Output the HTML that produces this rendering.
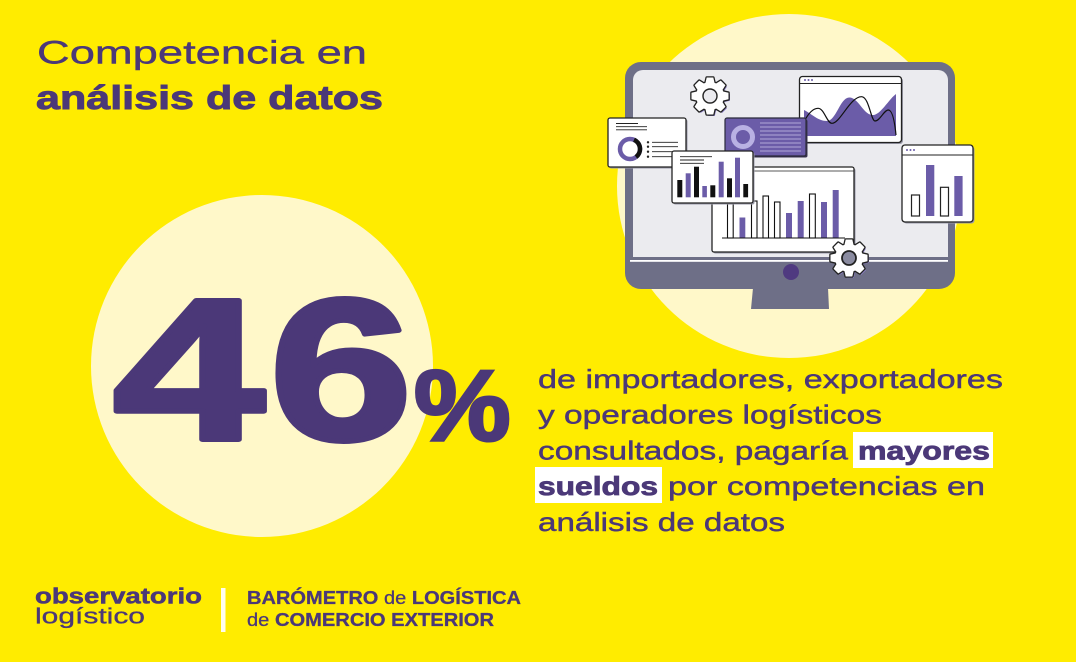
<!DOCTYPE html>
<html><head><meta charset="utf-8"><style>
html,body{margin:0;padding:0;background:#ffec00;}
svg{display:block;}
text{font-family:"Liberation Sans",sans-serif;}
</style></head><body>
<svg width="1076" height="662" viewBox="0 0 1076 662" xmlns="http://www.w3.org/2000/svg">
<rect width="1076" height="662" fill="#ffec00"/>
<!-- pale circles -->
<circle cx="262" cy="366" r="171" fill="#fff8c9"/>
<circle cx="789" cy="186" r="172" fill="#fff8c9"/>

<!-- Title -->
<text x="37" y="63.5" font-size="32" fill="#4b3878" stroke="#4b3878" stroke-width="0.4" textLength="330" lengthAdjust="spacingAndGlyphs">Competencia en</text>
<text x="36" y="109" font-size="33" font-weight="700" fill="#4b3878" stroke="#4b3878" stroke-width="0.9" textLength="347" lengthAdjust="spacingAndGlyphs">análisis de datos</text>

<!-- 46% -->
<g fill="#4b3878" stroke="#4b3878" stroke-width="5" stroke-linejoin="round" font-weight="700">
<text transform="translate(112.8,439.5) scale(1.355,1)" font-size="202">4</text>
<text transform="translate(269.2,439.5) scale(1.276,1)" font-size="202">6</text>
</g>
<text transform="translate(414,440) scale(1.086,1)" font-size="100" font-weight="700" fill="#4b3878" stroke="#4b3878" stroke-width="3">%</text>

<!-- Body text -->
<rect x="853" y="432" width="140" height="36" fill="#ffffff"/>
<rect x="535" y="467" width="127" height="36" fill="#ffffff"/>
<g font-size="26" fill="#4b3878" stroke="#4b3878" stroke-width="0.45">
<text x="538" y="388" textLength="465" lengthAdjust="spacingAndGlyphs">de importadores, exportadores</text>
<text x="538" y="423.5" textLength="344" lengthAdjust="spacingAndGlyphs">y operadores logísticos</text>
<text x="538" y="459.5" textLength="310" lengthAdjust="spacingAndGlyphs">consultados, pagaría</text>
<text x="858" y="459.5" textLength="132" lengthAdjust="spacingAndGlyphs" font-weight="700" stroke-width="0.8">mayores</text>
<text x="538" y="495" textLength="120" lengthAdjust="spacingAndGlyphs" font-weight="700" stroke-width="0.8">sueldos</text>
<text x="668" y="495" textLength="317" lengthAdjust="spacingAndGlyphs">por competencias en</text>
<text x="538" y="531" textLength="247" lengthAdjust="spacingAndGlyphs">análisis de datos</text>
</g>

<!-- Footer -->
<g fill="#4b3878">
<text x="35" y="603.3" font-size="22" font-weight="700" stroke="#4b3878" stroke-width="0.5" textLength="167" lengthAdjust="spacingAndGlyphs">observatorio</text>
<text x="35" y="623.3" font-size="22" stroke="#4b3878" stroke-width="0.3" textLength="110" lengthAdjust="spacingAndGlyphs">logístico</text>
<rect x="221" y="588" width="4.5" height="44" fill="#fffdf0"/>
<text x="247" y="604" font-size="18.5" stroke="#4b3878" stroke-width="0.3" textLength="274" lengthAdjust="spacingAndGlyphs"><tspan font-weight="700">BARÓMETRO</tspan> de <tspan font-weight="700">LOGÍSTICA</tspan></text>
<text x="247" y="626" font-size="18.5" stroke="#4b3878" stroke-width="0.3" textLength="247" lengthAdjust="spacingAndGlyphs">de <tspan font-weight="700">COMERCIO EXTERIOR</tspan></text>
</g>

<!-- Monitor -->
<rect x="625" y="62" width="330" height="227" rx="16" fill="#6e6f87"/>
<rect x="633" y="70" width="315" height="187" rx="10" fill="#ebebef"/>
<rect x="633" y="245" width="315" height="12" fill="#ebebef"/>
<rect x="630" y="260" width="318" height="1.8" fill="#ffffff"/>
<circle cx="791" cy="272" r="8" fill="#4f3a80"/>
<polygon points="753,288 828,288 829,309 751,309" fill="#6e6f87"/>

<!-- Gear 1 -->
<g transform="translate(711.5,97.5)" fill="#8d7fc9">
<circle r="14"/>
<polygon points="-4.8,-12 4.8,-12 3.3,-18.5 -3.3,-18.5"/><polygon transform="rotate(45)" points="-4.8,-12 4.8,-12 3.3,-18.5 -3.3,-18.5"/><polygon transform="rotate(90)" points="-4.8,-12 4.8,-12 3.3,-18.5 -3.3,-18.5"/><polygon transform="rotate(135)" points="-4.8,-12 4.8,-12 3.3,-18.5 -3.3,-18.5"/><polygon transform="rotate(180)" points="-4.8,-12 4.8,-12 3.3,-18.5 -3.3,-18.5"/><polygon transform="rotate(225)" points="-4.8,-12 4.8,-12 3.3,-18.5 -3.3,-18.5"/><polygon transform="rotate(270)" points="-4.8,-12 4.8,-12 3.3,-18.5 -3.3,-18.5"/><polygon transform="rotate(315)" points="-4.8,-12 4.8,-12 3.3,-18.5 -3.3,-18.5"/>
</g>
<g transform="translate(710,96)">
<g fill="#222" stroke="#222" stroke-width="2.6" stroke-linejoin="round">
<circle r="14"/>
<polygon points="-4.8,-12 4.8,-12 3.3,-18.5 -3.3,-18.5"/><polygon transform="rotate(45)" points="-4.8,-12 4.8,-12 3.3,-18.5 -3.3,-18.5"/><polygon transform="rotate(90)" points="-4.8,-12 4.8,-12 3.3,-18.5 -3.3,-18.5"/><polygon transform="rotate(135)" points="-4.8,-12 4.8,-12 3.3,-18.5 -3.3,-18.5"/><polygon transform="rotate(180)" points="-4.8,-12 4.8,-12 3.3,-18.5 -3.3,-18.5"/><polygon transform="rotate(225)" points="-4.8,-12 4.8,-12 3.3,-18.5 -3.3,-18.5"/><polygon transform="rotate(270)" points="-4.8,-12 4.8,-12 3.3,-18.5 -3.3,-18.5"/><polygon transform="rotate(315)" points="-4.8,-12 4.8,-12 3.3,-18.5 -3.3,-18.5"/>
</g>
<g fill="#fff">
<circle r="14"/>
<polygon points="-4.8,-12 4.8,-12 3.3,-18.5 -3.3,-18.5"/><polygon transform="rotate(45)" points="-4.8,-12 4.8,-12 3.3,-18.5 -3.3,-18.5"/><polygon transform="rotate(90)" points="-4.8,-12 4.8,-12 3.3,-18.5 -3.3,-18.5"/><polygon transform="rotate(135)" points="-4.8,-12 4.8,-12 3.3,-18.5 -3.3,-18.5"/><polygon transform="rotate(180)" points="-4.8,-12 4.8,-12 3.3,-18.5 -3.3,-18.5"/><polygon transform="rotate(225)" points="-4.8,-12 4.8,-12 3.3,-18.5 -3.3,-18.5"/><polygon transform="rotate(270)" points="-4.8,-12 4.8,-12 3.3,-18.5 -3.3,-18.5"/><polygon transform="rotate(315)" points="-4.8,-12 4.8,-12 3.3,-18.5 -3.3,-18.5"/>
</g>
<circle r="7" fill="#ebebef" stroke="#222" stroke-width="1.4"/>
</g>

<!-- Area chart window -->
<rect x="801" y="78" width="102" height="66" rx="3" fill="#9a9aa8"/>
<rect x="799.5" y="76.5" width="102" height="66" rx="3" fill="#fff" stroke="#222" stroke-width="1.3"/>
<line x1="799.5" y1="83.5" x2="901.5" y2="83.5" stroke="#222" stroke-width="1"/>
<circle cx="805" cy="80" r="1" fill="#6b5ca8"/><circle cx="808.5" cy="80" r="1" fill="#6b5ca8"/><circle cx="812" cy="80" r="1" fill="#6b5ca8"/>
<path d="M804,136 L804,110 C812,114 818,121 827,121 C836,121 840,98 849,97.5 C858,97 863,114 872,115 C880,116 888,100 896,94 L896,136 Z" fill="#6b5ca8"/>
<path d="M804,121.7 C808,114 813,108 818.3,108.3 C824,108.5 827,123 831.7,123.3 C840,124 850,96.5 861.7,96.7 C869,97 871,121 875,121 C880,121 884,110 888.3,110 C893,110 895,125 896,135" fill="none" stroke="#111" stroke-width="1.2"/>

<!-- Purple card -->
<rect x="726.5" y="119.5" width="81" height="38" rx="2" fill="#3a3350"/>
<rect x="725" y="118" width="81" height="38" rx="2" fill="#6b5ca8" stroke="#2a2a3a" stroke-width="1.2"/>
<circle cx="743" cy="137" r="9.5" fill="none" stroke="#b9b1e3" stroke-width="5"/>
<g stroke="#c9c2ea" stroke-width="0.8">
<line x1="760" y1="123" x2="801" y2="123"/><line x1="760" y1="127" x2="801" y2="127"/><line x1="760" y1="131" x2="801" y2="131"/><line x1="760" y1="135" x2="801" y2="135"/><line x1="760" y1="139" x2="801" y2="139"/><line x1="760" y1="143" x2="801" y2="143"/><line x1="760" y1="147" x2="801" y2="147"/><line x1="760" y1="151" x2="801" y2="151"/>
</g>

<!-- Right bar window -->
<rect x="903.5" y="146.5" width="71" height="77" rx="3" fill="#9a9aa8"/>
<rect x="902" y="145" width="71" height="77" rx="3" fill="#fff" stroke="#222" stroke-width="1.3"/>
<line x1="902" y1="155" x2="973" y2="155" stroke="#222" stroke-width="1"/>
<circle cx="907" cy="150" r="1" fill="#6b5ca8"/><circle cx="910.5" cy="150" r="1" fill="#6b5ca8"/><circle cx="914" cy="150" r="1" fill="#6b5ca8"/>
<rect x="911.5" y="195" width="8" height="21" fill="#fff" stroke="#222" stroke-width="1.2"/>
<rect x="926" y="165" width="8.3" height="51" fill="#6b5ca8"/>
<rect x="940.5" y="187.3" width="8" height="28.7" fill="#fff" stroke="#222" stroke-width="1.2"/>
<rect x="954.3" y="176" width="8.3" height="40" fill="#6b5ca8"/>

<!-- Donut card -->
<rect x="609.5" y="119.5" width="78" height="49" rx="2" fill="#9a9aa8"/>
<rect x="608" y="118" width="78" height="49" rx="2" fill="#fff" stroke="#222" stroke-width="1.3"/>
<g stroke="#222" stroke-width="0.9">
<line x1="616" y1="123.5" x2="638" y2="123.5"/><line x1="616" y1="126.7" x2="647" y2="126.7"/><line x1="616" y1="129.8" x2="647" y2="129.8"/>
<line x1="652" y1="142.3" x2="678" y2="142.3"/><line x1="652" y1="146.7" x2="678" y2="146.7"/><line x1="652" y1="151.7" x2="678" y2="151.7"/><line x1="652" y1="156.7" x2="672" y2="156.7"/>
</g>
<g fill="#222"><circle cx="648" cy="142.3" r="1.2"/><circle cx="648" cy="146.7" r="1.2"/><circle cx="648" cy="151.7" r="1.2"/><circle cx="648" cy="156.7" r="1.2"/></g>
<circle cx="630" cy="149" r="10" fill="none" stroke="#6b5ca8" stroke-width="4.5"/>
<path d="M634,139.8 A10,10 0 0 1 636,157" fill="none" stroke="#111" stroke-width="4.5"/>

<!-- Big bar window -->
<rect x="713.5" y="168.5" width="142" height="85" rx="2" fill="#9a9aa8"/>
<rect x="712" y="167" width="142" height="85" rx="2" fill="#fff" stroke="#222" stroke-width="1.3"/>
<line x1="712" y1="171" x2="854" y2="171" stroke="#222" stroke-width="0.8"/>
<g stroke="#111" stroke-width="1.1">
<rect x="727.5" y="204" width="5.7" height="34" fill="#fff"/>
<rect x="739.5" y="217.5" width="5.8" height="20.5" fill="#6b5ca8" stroke="none"/>
<rect x="751.5" y="201" width="5.5" height="37" fill="#fff"/>
<rect x="763" y="196" width="5.5" height="42" fill="#fff"/>
<rect x="774.5" y="202" width="5.5" height="36" fill="#fff"/>
<rect x="786" y="213" width="6" height="25" fill="#6b5ca8" stroke="none"/>
<rect x="797.7" y="201" width="6" height="37" fill="#6b5ca8" stroke="none"/>
<rect x="809.5" y="194" width="5.8" height="44" fill="#fff"/>
<rect x="821" y="202" width="6" height="36" fill="#6b5ca8" stroke="none"/>
<rect x="832.7" y="190" width="6" height="48" fill="#6b5ca8" stroke="none"/>
<line x1="722" y1="238" x2="845" y2="238"/>
</g>

<!-- Small bar card -->
<rect x="673.5" y="152.5" width="81" height="52" rx="2" fill="#9a9aa8"/>
<rect x="672" y="151" width="81" height="52" rx="2" fill="#fff" stroke="#222" stroke-width="1.3"/>
<g stroke="#222" stroke-width="0.9">
<line x1="680" y1="156.7" x2="712" y2="156.7"/><line x1="680" y1="160" x2="704" y2="160"/><line x1="680" y1="163.3" x2="704" y2="163.3"/>
</g>
<rect x="677.3" y="180" width="5" height="17.3" fill="#111"/>
<rect x="685.7" y="173.3" width="5" height="24" fill="#6b5ca8"/>
<rect x="694" y="166.7" width="5" height="30.6" fill="#111"/>
<rect x="702.3" y="186" width="4.6" height="11.3" fill="#6b5ca8"/>
<rect x="710.3" y="185.3" width="5" height="12" fill="#111"/>
<rect x="718.7" y="161.7" width="5" height="35.6" fill="#6b5ca8"/>
<rect x="727" y="178.3" width="5" height="19" fill="#111"/>
<rect x="735" y="157.7" width="5" height="39.6" fill="#6b5ca8"/>
<rect x="743.3" y="184" width="4.8" height="13.3" fill="#111"/>

<!-- Gear 2 -->
<g transform="translate(850.5,259.5)" fill="#8d7fc9">
<circle r="14"/>
<polygon points="-4.8,-12 4.8,-12 3.3,-18.5 -3.3,-18.5"/><polygon transform="rotate(45)" points="-4.8,-12 4.8,-12 3.3,-18.5 -3.3,-18.5"/><polygon transform="rotate(90)" points="-4.8,-12 4.8,-12 3.3,-18.5 -3.3,-18.5"/><polygon transform="rotate(135)" points="-4.8,-12 4.8,-12 3.3,-18.5 -3.3,-18.5"/><polygon transform="rotate(180)" points="-4.8,-12 4.8,-12 3.3,-18.5 -3.3,-18.5"/><polygon transform="rotate(225)" points="-4.8,-12 4.8,-12 3.3,-18.5 -3.3,-18.5"/><polygon transform="rotate(270)" points="-4.8,-12 4.8,-12 3.3,-18.5 -3.3,-18.5"/><polygon transform="rotate(315)" points="-4.8,-12 4.8,-12 3.3,-18.5 -3.3,-18.5"/>
</g>
<g transform="translate(849,258)">
<g fill="#222" stroke="#222" stroke-width="2.6" stroke-linejoin="round">
<circle r="14"/>
<polygon points="-4.8,-12 4.8,-12 3.3,-18.5 -3.3,-18.5"/><polygon transform="rotate(45)" points="-4.8,-12 4.8,-12 3.3,-18.5 -3.3,-18.5"/><polygon transform="rotate(90)" points="-4.8,-12 4.8,-12 3.3,-18.5 -3.3,-18.5"/><polygon transform="rotate(135)" points="-4.8,-12 4.8,-12 3.3,-18.5 -3.3,-18.5"/><polygon transform="rotate(180)" points="-4.8,-12 4.8,-12 3.3,-18.5 -3.3,-18.5"/><polygon transform="rotate(225)" points="-4.8,-12 4.8,-12 3.3,-18.5 -3.3,-18.5"/><polygon transform="rotate(270)" points="-4.8,-12 4.8,-12 3.3,-18.5 -3.3,-18.5"/><polygon transform="rotate(315)" points="-4.8,-12 4.8,-12 3.3,-18.5 -3.3,-18.5"/>
</g>
<g fill="#fff">
<circle r="14"/>
<polygon points="-4.8,-12 4.8,-12 3.3,-18.5 -3.3,-18.5"/><polygon transform="rotate(45)" points="-4.8,-12 4.8,-12 3.3,-18.5 -3.3,-18.5"/><polygon transform="rotate(90)" points="-4.8,-12 4.8,-12 3.3,-18.5 -3.3,-18.5"/><polygon transform="rotate(135)" points="-4.8,-12 4.8,-12 3.3,-18.5 -3.3,-18.5"/><polygon transform="rotate(180)" points="-4.8,-12 4.8,-12 3.3,-18.5 -3.3,-18.5"/><polygon transform="rotate(225)" points="-4.8,-12 4.8,-12 3.3,-18.5 -3.3,-18.5"/><polygon transform="rotate(270)" points="-4.8,-12 4.8,-12 3.3,-18.5 -3.3,-18.5"/><polygon transform="rotate(315)" points="-4.8,-12 4.8,-12 3.3,-18.5 -3.3,-18.5"/>
</g>
<circle r="7" fill="#8a8ba0" stroke="#222" stroke-width="1.8"/>
</g>
</svg>
</body></html>
